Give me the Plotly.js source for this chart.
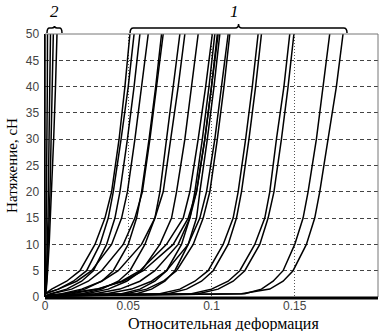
<!DOCTYPE html>
<html>
<head>
<meta charset="utf-8">
<script src="https://cdn.plot.ly/plotly-3.0.1.min.js"></script>
<style>html,body{margin:0;padding:0;background:#fff;}#chart{width:384px;height:331px;}</style>
</head>
<body>
<div id="chart"></div>
<script>
// Tension levels (cN) at which each curve's strain was read
const tensionLevels = [0.2, 0.6, 1.5, 3, 5, 10, 15, 20, 30, 40, 50];

// Group 1 curves: relative strain at each tension level
const g1c01 = [0, 0, 0.004, 0.013, 0.021, 0.030, 0.036, 0.040, 0.0445, 0.048, 0.051];
const g1c02 = [0, 0, 0.008, 0.017, 0.025, 0.033, 0.038, 0.041, 0.0457, 0.050, 0.0535];
const g1c03 = [0, 0.003, 0.013, 0.022, 0.029, 0.037, 0.042, 0.045, 0.0495, 0.0535, 0.057];
const g1c04 = [0, 0, 0.008, 0.019, 0.028, 0.040, 0.046, 0.0495, 0.054, 0.058, 0.062];
const g1c05 = [0, 0.013, 0.024, 0.034, 0.041, 0.050, 0.055, 0.058, 0.0625, 0.0665, 0.070];
const g1c06 = [0, 0.004, 0.016, 0.026, 0.034, 0.047, 0.054, 0.0585, 0.063, 0.067, 0.071];
const g1c07 = [0, 0.022, 0.034, 0.044, 0.051, 0.060, 0.066, 0.069, 0.073, 0.077, 0.081];
const g1c08 = [0, 0.010, 0.022, 0.034, 0.044, 0.058, 0.066, 0.071, 0.0755, 0.080, 0.084];
const g1c09 = [0, 0.025, 0.038, 0.049, 0.058, 0.069, 0.076, 0.079, 0.084, 0.088, 0.092];
const g1c10 = [0, 0.016, 0.032, 0.046, 0.057, 0.073, 0.083, 0.087, 0.092, 0.0965, 0.1005];
const g1c11 = [0, 0.046, 0.057, 0.066, 0.073, 0.082, 0.087, 0.090, 0.0945, 0.0985, 0.102];
const g1c12 = [0, 0.030, 0.045, 0.057, 0.066, 0.080, 0.087, 0.091, 0.096, 0.100, 0.1035];
const g1c13 = [0, 0.012, 0.031, 0.047, 0.059, 0.077, 0.086, 0.091, 0.096, 0.100, 0.104];
const g1c14 = [0, 0.055, 0.064, 0.072, 0.078, 0.086, 0.091, 0.093, 0.0975, 0.1015, 0.105];
const g1c15 = [0, 0.037, 0.052, 0.064, 0.073, 0.086, 0.093, 0.097, 0.102, 0.106, 0.110];
const g1c16 = [0, 0.049, 0.061, 0.071, 0.079, 0.089, 0.095, 0.099, 0.1035, 0.1075, 0.111];
const g1c17 = [0, 0.069, 0.081, 0.090, 0.098, 0.107, 0.113, 0.116, 0.1205, 0.1245, 0.128];
const g1c18 = [0, 0.074, 0.085, 0.094, 0.101, 0.110, 0.115, 0.118, 0.1225, 0.1265, 0.130];
const g1c19 = [0, 0.088, 0.100, 0.110, 0.117, 0.126, 0.132, 0.135, 0.139, 0.1435, 0.147];
const g1c20 = [0, 0.092, 0.104, 0.113, 0.120, 0.129, 0.134, 0.1375, 0.142, 0.146, 0.1495];
const g1c21 = [0, 0.120, 0.130, 0.137, 0.143, 0.150, 0.155, 0.158, 0.163, 0.167, 0.171];
const g1c22 = [0, 0.118, 0.135, 0.143, 0.149, 0.157, 0.162, 0.165, 0.170, 0.175, 0.179];

// Group 2 curves (nearly inextensible)
const g2c01 = [0, 0, 0, 0, 0, 0, 0, 0, 0, 0, 0];
const g2c02 = [0, 0, 0, 0, 0.0003, 0.0006, 0.0008, 0.0010, 0.0012, 0.0014, 0.0015];
const g2c03 = [0, 0.0002, 0.0005, 0.0008, 0.0010, 0.0015, 0.0018, 0.0020, 0.0025, 0.0030, 0.0033];
const g2c04 = [0, 0.0003, 0.0006, 0.0010, 0.0013, 0.0020, 0.0025, 0.0030, 0.0038, 0.0045, 0.0050];
const g2c05 = [0, 0.0004, 0.0008, 0.0012, 0.0016, 0.0025, 0.0032, 0.0040, 0.0052, 0.0063, 0.0072];

const group1 = [g1c01,g1c02,g1c03,g1c04,g1c05,g1c06,g1c07,g1c08,g1c09,g1c10,g1c11,
                g1c12,g1c13,g1c14,g1c15,g1c16,g1c17,g1c18,g1c19,g1c20,g1c21,g1c22];
const group2 = [g2c01,g2c02,g2c03,g2c04,g2c05];

const xTickVals = [0, 0.05, 0.1, 0.15, 0.2];
const xTickText = ['0', '0.05', '0.1', '0.15', '0.2'];
const yTickVals = [0, 5, 10, 15, 20, 25, 30, 35, 40, 45, 50];
const xTitle = 'Относительная деформация';
const yTitle = 'Натяжение, сН';

const traces = [];
group1.concat(group2).forEach(function (xs) {
  traces.push({
    x: xs, y: tensionLevels, type: 'scatter', mode: 'lines',
    line: {color: '#000', width: 1.5}, hoverinfo: 'skip', showlegend: false
  });
});

function brace(x0, x1, e, yb, yt, ytip) {
  const xm = (x0 + x1) / 2;
  return 'M' + x0 + ',' + yb + ' Q' + x0 + ',' + yt + ' ' + (x0 + e) + ',' + yt +
         ' L' + (xm - e) + ',' + yt + ' Q' + xm + ',' + yt + ' ' + xm + ',' + ytip +
         ' Q' + xm + ',' + yt + ' ' + (xm + e) + ',' + yt +
         ' L' + (x1 - e) + ',' + yt + ' Q' + x1 + ',' + yt + ' ' + x1 + ',' + yb;
}

const serif = 'Liberation Serif, Times New Roman, serif';

const layout = {
  width: 384, height: 331,
  margin: {l: 45, r: 6, t: 34, b: 34, pad: 0},
  paper_bgcolor: '#fff', plot_bgcolor: '#fff',
  showlegend: false,
  font: {family: 'Liberation Sans, Arial, sans-serif', size: 12, color: '#333'},
  xaxis: {
    range: [0, 0.2], tickvals: xTickVals, ticktext: xTickText,
    showgrid: true, gridcolor: '#555', gridwidth: 1, griddash: '1px,2px',
    zeroline: false, showline: false,
    ticks: '', ticklabelstandoff: 0,
    tickfont: {family: 'Liberation Sans, Arial, sans-serif', size: 12, color: '#444'},
    automargin: false, fixedrange: true
  },
  yaxis: {
    range: [0, 50], tickvals: yTickVals,
    showgrid: true, gridcolor: '#444', gridwidth: 1, griddash: '4px,3px',
    zeroline: false, showline: true, linecolor: '#000', linewidth: 1.5,
    ticks: '', ticklabelstandoff: 2,
    tickfont: {family: 'Liberation Sans, Arial, sans-serif', size: 12, color: '#444'},
    title: {text: yTitle, standoff: 4, font: {family: serif, size: 15, color: '#000'}},
    automargin: false, fixedrange: true
  },
  shapes: [
    {type: 'line', xref: 'paper', yref: 'paper', x0: 0, x1: 1, y0: 1, y1: 1,
     line: {color: '#777', width: 1}},
    {type: 'line', xref: 'paper', yref: 'paper', x0: 1, x1: 1, y0: 0, y1: 1,
     line: {color: '#777', width: 1}},
    {type: 'line', xref: 'paper', yref: 'paper', x0: 0, x1: 1, y0: -0.004, y1: -0.004,
     line: {color: '#000', width: 3}},
    {type: 'path', xref: 'x', yref: 'paper',
     path: brace(0.0012, 0.0102, 0.0015, 1.004, 1.023, 1.030),
     line: {color: '#000', width: 1.5}},
    {type: 'path', xref: 'x', yref: 'paper',
     path: brace(0.0511, 0.1814, 0.002, 1.004, 1.023, 1.038),
     line: {color: '#000', width: 1.5}}
  ],
  annotations: [
    {text: xTitle, xref: 'paper', yref: 'paper', x: 0.535, y: -0.104,
     xanchor: 'center', yanchor: 'middle', showarrow: false,
     font: {family: serif, size: 16, color: '#000'}},
    {text: '<i>2</i>', xref: 'x', yref: 'paper', x: 0.0057, y: 1.085,
     xanchor: 'center', yanchor: 'middle', showarrow: false,
     font: {family: serif, size: 17, color: '#000'}},
    {text: '<i>1</i>', xref: 'x', yref: 'paper', x: 0.1141, y: 1.085,
     xanchor: 'center', yanchor: 'middle', showarrow: false,
     font: {family: serif, size: 17, color: '#000'}}
  ]
};

Plotly.newPlot('chart', traces, layout, {staticPlot: true, displayModeBar: false});
</script>
</body>
</html>
